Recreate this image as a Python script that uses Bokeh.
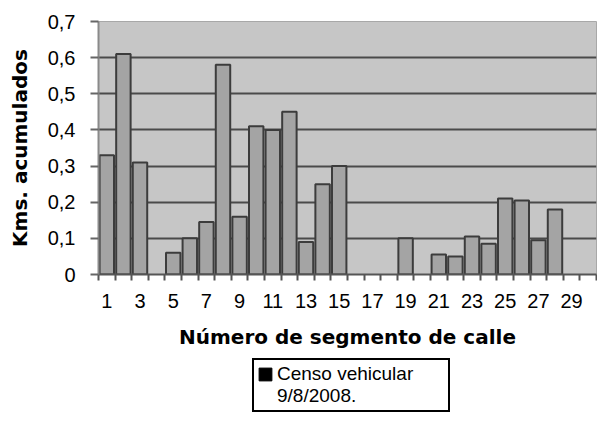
from bokeh.plotting import figure
from bokeh.layouts import column
from bokeh.models import (Range1d, FixedTicker, CustomJSTickFormatter, Legend,
                          LegendItem, ColumnDataSource, LinearAxis)
from bokeh.embed import file_html
from bokeh.resources import INLINE

segments = list(range(1, 31))
kms = [0.33, 0.61, 0.31, 0.0, 0.06, 0.10, 0.145, 0.58, 0.16, 0.41,
       0.40, 0.45, 0.09, 0.25, 0.30, 0.0, 0.0, 0.0, 0.10, 0.0,
       0.055, 0.05, 0.105, 0.085, 0.21, 0.205, 0.095, 0.18, 0.0, 0.0]
x_tick_labels = [1, 3, 5, 7, 9, 11, 13, 15, 17, 19, 21, 23, 25, 27, 29]
y_ticks = [0, 0.1, 0.2, 0.3, 0.4, 0.5, 0.6, 0.7]
series_label = "Censo vehicular"
series_label2 = "9/8/2008."

p = figure(width=597, height=358, output_backend="svg", toolbar_location=None,
           x_range=Range1d(0.5, 30.5), y_range=Range1d(0, 0.7),
           min_border_left=98, min_border_top=21, min_border_bottom=84,
           min_border_right=1)
p.background_fill_color = "#c6c6c6"
p.border_fill_color = "white"
p.outline_line_color = "#a8a8a8"

src = ColumnDataSource(dict(x=[s for s, v in zip(segments, kms) if v > 0],
                            top=[v for v in kms if v > 0]))
p.vbar(x="x", top="top", width=0.87, source=src,
       fill_color="#a4a4a4", line_color="#3c3c3c", line_width=2)

# grid
p.xgrid.grid_line_color = None
p.ygrid.ticker = FixedTicker(ticks=y_ticks)
p.ygrid.grid_line_color = "#4a4a4a"
p.ygrid.grid_line_width = 2

# x axis: boundary ticks only
boundaries = [s - 0.5 for s in segments] + [segments[-1] + 0.5]
p.xaxis.ticker = FixedTicker(ticks=boundaries)
p.xaxis.formatter = CustomJSTickFormatter(code="return '';")
p.xaxis.major_tick_out = 6
p.xaxis.major_tick_in = 0
p.xaxis.minor_tick_out = 0
p.xaxis.minor_tick_in = 0
p.xaxis.major_tick_line_color = "#555555"
p.xaxis.major_tick_line_width = 2
p.xaxis.axis_line_color = "#555555"
p.xaxis.axis_line_width = 2
p.xaxis.major_label_text_font_size = "2px"
p.xaxis.major_label_standoff = 0

# x axis: labels + title
xlab = LinearAxis(ticker=FixedTicker(ticks=x_tick_labels))
xlab.axis_line_color = None
xlab.major_tick_line_color = None
xlab.minor_tick_line_color = None
xlab.major_tick_out = 0
xlab.major_tick_in = 0
xlab.minor_tick_out = 0
xlab.minor_tick_in = 0
xlab.major_label_standoff = 13
xlab.major_label_text_font = "Liberation Sans"
xlab.major_label_text_font_size = "20px"
xlab.major_label_text_color = "black"
xlab.axis_label = "Número de segmento de calle"
xlab.axis_label_text_font = "DejaVu Sans"
xlab.axis_label_text_font_style = "bold"
xlab.axis_label_text_font_size = "20px"
xlab.axis_label_text_color = "black"
xlab.axis_label_standoff = 14
p.add_layout(xlab, "below")

# y axis
p.yaxis.ticker = FixedTicker(ticks=y_ticks)
p.yaxis.formatter = CustomJSTickFormatter(
    code="return tick == 0 ? '0' : tick.toFixed(1).replace('.', ',');")
p.yaxis.major_tick_out = 8
p.yaxis.major_tick_in = 0
p.yaxis.minor_tick_out = 0
p.yaxis.minor_tick_in = 0
p.yaxis.major_tick_line_color = "#666666"
p.yaxis.major_tick_line_width = 2
p.yaxis.axis_line_color = "#8a8a8a"
p.yaxis.axis_line_width = 2
p.yaxis.major_label_standoff = 15
p.yaxis.major_label_text_font = "Liberation Sans"
p.yaxis.major_label_text_font_size = "20px"
p.yaxis.major_label_text_color = "black"
p.yaxis.axis_label = "Kms. acumulados"
p.yaxis.axis_label_text_font = "DejaVu Sans"
p.yaxis.axis_label_text_font_style = "bold"
p.yaxis.axis_label_text_font_size = "20px"
p.yaxis.axis_label_text_color = "black"
p.yaxis.axis_label_standoff = 13

# legend strip below the chart
q = figure(width=597, height=56, output_backend="svg", toolbar_location=None,
           x_range=Range1d(0.5, 30.5), y_range=Range1d(0, 0.7),
           x_axis_location=None, y_axis_location=None,
           min_border=0)
q.outline_line_color = None
q.grid.grid_line_color = None
q.background_fill_color = "white"
q.border_fill_color = "white"
sq = q.vbar(x="x", top="top", width=0.87, source=src,
            fill_color="black", line_color="black", visible=False)
blank = q.vbar(x="x", top="top", width=0.87, source=src,
               fill_alpha=0, line_alpha=0, visible=False)
legend = Legend(items=[LegendItem(label=series_label, renderers=[sq]),
                       LegendItem(label=series_label2, renderers=[blank])],
                location=(154, 2), orientation="vertical",
                label_text_font="Liberation Sans", label_text_font_size="19px",
                label_text_color="black", glyph_width=16, glyph_height=16,
                label_height=21, label_width=168,
                label_standoff=4, spacing=0, padding=3, margin=0,
                border_line_color="black", border_line_width=2,
                border_line_alpha=1, inactive_fill_alpha=0,
                background_fill_color="white", background_fill_alpha=1)
q.add_layout(legend, "center")

page = column(p, q, spacing=0)
open("out.html", "w").write(file_html(page, INLINE))
